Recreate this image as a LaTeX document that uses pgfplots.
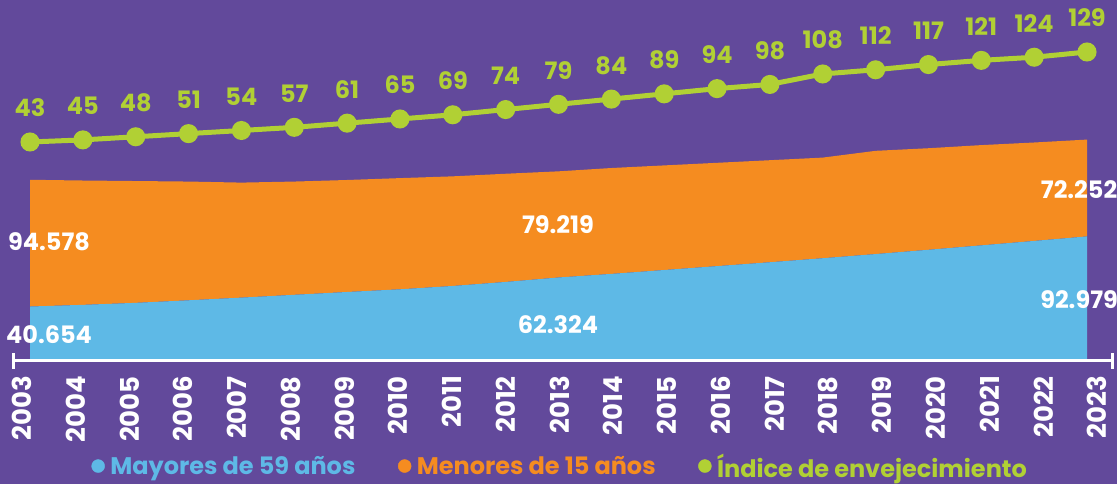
\documentclass[border=0pt]{standalone}
\usepackage{pgfplots}
\pgfplotsset{compat=1.18}
\usepackage{fontspec}
\setmainfont{Poppins}
\definecolor{bgp}{RGB}{98,73,155}
\definecolor{mblue}{RGB}{94,185,230}
\definecolor{morange}{RGB}{245,140,32}
\definecolor{mgreen}{RGB}{177,208,52}
\pgfplotstableread{
x y
2003 40654
2004 41900
2005 43400
2006 45300
2007 47300
2008 49400
2009 51500
2010 53500
2011 56000
2012 59000
2013 62324
2014 65000
2015 67900
2016 70800
2017 73700
2018 76700
2019 79800
2020 83000
2021 86300
2022 89600
2023 92979
}\mayores
\pgfplotstableread{
x y
2003 94578
2004 92790
2005 90900
2006 88610
2007 85830
2008 84510
2009 83580
2010 82980
2011 81800
2012 80740
2013 79219
2014 79010
2015 78060
2016 77100
2017 76140
2018 75090
2019 77040
2020 75780
2021 74810
2022 73460
2023 72252
}\menores
\pgfplotstableread{
x y l
2003 43 43
2004 45 45
2005 48 48
2006 51 51
2007 54 54
2008 57 57
2009 61 61
2010 65 65
2011 69 69
2012 74 74
2013 79 79
2014 84 84
2015 89 89
2016 94 94
2017 98 98
2018 108 108
2019 112 112
2020 117 117
2021 121 121
2022 124 124
2023 129 129
}\indice
\pgfplotstableread{
x y l
2003.36 -52.56 94.578
2003.36 -141.42 40.654
2012.99 -36.31 79.219
2012.99 -131.87 62.324
2022.85 -2.87 72.252
2022.85 -107.98 92.979
}\etiquetas
\begin{document}
\begin{tikzpicture}
\fill[bgp] (-13pt,-123pt) rectangle (1104pt,361pt);
\useasboundingbox (-13pt,-123pt) rectangle (1104pt,361pt);
\begin{axis}[
  scale only axis, width=1099pt, height=340pt,
  xmin=2002.678, xmax=2023.473, ymin=0, ymax=253731,
  axis x line=bottom, axis y line=none,
  x axis line style={-, white, line width=3pt},
  xtick={2002.849,2003.866,2004.883,2005.900,2006.917,2007.934,2008.951,2009.968,2010.985,2012.002,2013.019,2014.036,2015.053,2016.070,2017.088,2018.105,2019.122,2020.139,2021.156,2022.173,2023.190},
  xticklabels={\textbf{2003},\textbf{2004},\textbf{2005},\textbf{2006},\textbf{2007},\textbf{2008},\textbf{2009},\textbf{2010},\textbf{2011},\textbf{2012},\textbf{2013},\textbf{2014},\textbf{2015},\textbf{2016},\textbf{2017},\textbf{2018},\textbf{2019},\textbf{2020},\textbf{2021},\textbf{2022},\textbf{2023}},
  major tick length=0pt,
  xticklabel style={yshift=-15pt, rotate=90, anchor=east, text=white, font=\fontsize{26}{26}\selectfont\bfseries, inner sep=0pt},
  extra x ticks={2002.678,2023.473}, extra x tick labels={},
  extra x tick style={major tick length=16pt, tick align=center, tick style={white, line width=3pt}},
  stack plots=y, clip=false, axis on top,
]
\addplot[fill=mblue, draw=none] table[x=x,y=y] {\mayores} \closedcycle;
\addplot[fill=morange, draw=none] table[x=x,y=y] {\menores} \closedcycle;
\end{axis}
\begin{axis}[
  scale only axis, width=1099pt, height=340pt,
  xmin=2002.678, xmax=2023.473, ymin=-166.27, ymax=158.62,
  hide axis, clip=false,
  legend columns=3, legend cell align=left,
  legend style={at={(0.4977,-0.309)}, anchor=center, draw=none, fill=none,
    font=\fontsize{24}{24}\selectfont\bfseries,
    /tikz/every odd column/.append style={column sep=4pt},
    /tikz/every even column/.append style={column sep=41pt},
    nodes={inner sep=1.5pt}},
]
\addlegendimage{legend image code/.code={\fill[mblue] (0pt,0pt) circle (6.5pt);}}
\addlegendentry{\textcolor{mblue}{Mayores de 59 años}}
\addlegendimage{legend image code/.code={\fill[morange] (0pt,0pt) circle (6.5pt);}}
\addlegendentry{\textcolor{morange}{Menores de 15 años}}
\addlegendimage{legend image code/.code={\fill[mgreen] (0pt,0pt) circle (6.5pt);}}
\addlegendentry{\textcolor{mgreen}{Índice de envejecimiento}}
\addplot[forget plot, mgreen, line width=5pt, mark=*, mark size=7pt,
  mark options={draw=none, fill=mgreen},
  nodes near coords, point meta=explicit symbolic,
  every node near coord/.append style={anchor=base, yshift=25pt, text=mgreen, font=\fontsize{24}{24}\selectfont\bfseries}]
  table[x=x,y=y,meta=l] {\indice};
\addplot[forget plot, draw=none, mark=none,
  nodes near coords, point meta=explicit symbolic,
  every node near coord/.append style={anchor=center, text=white, font=\fontsize{24}{24}\selectfont\bfseries}]
  table[x=x,y=y,meta=l] {\etiquetas};
\end{axis}
\end{tikzpicture}
\end{document}
